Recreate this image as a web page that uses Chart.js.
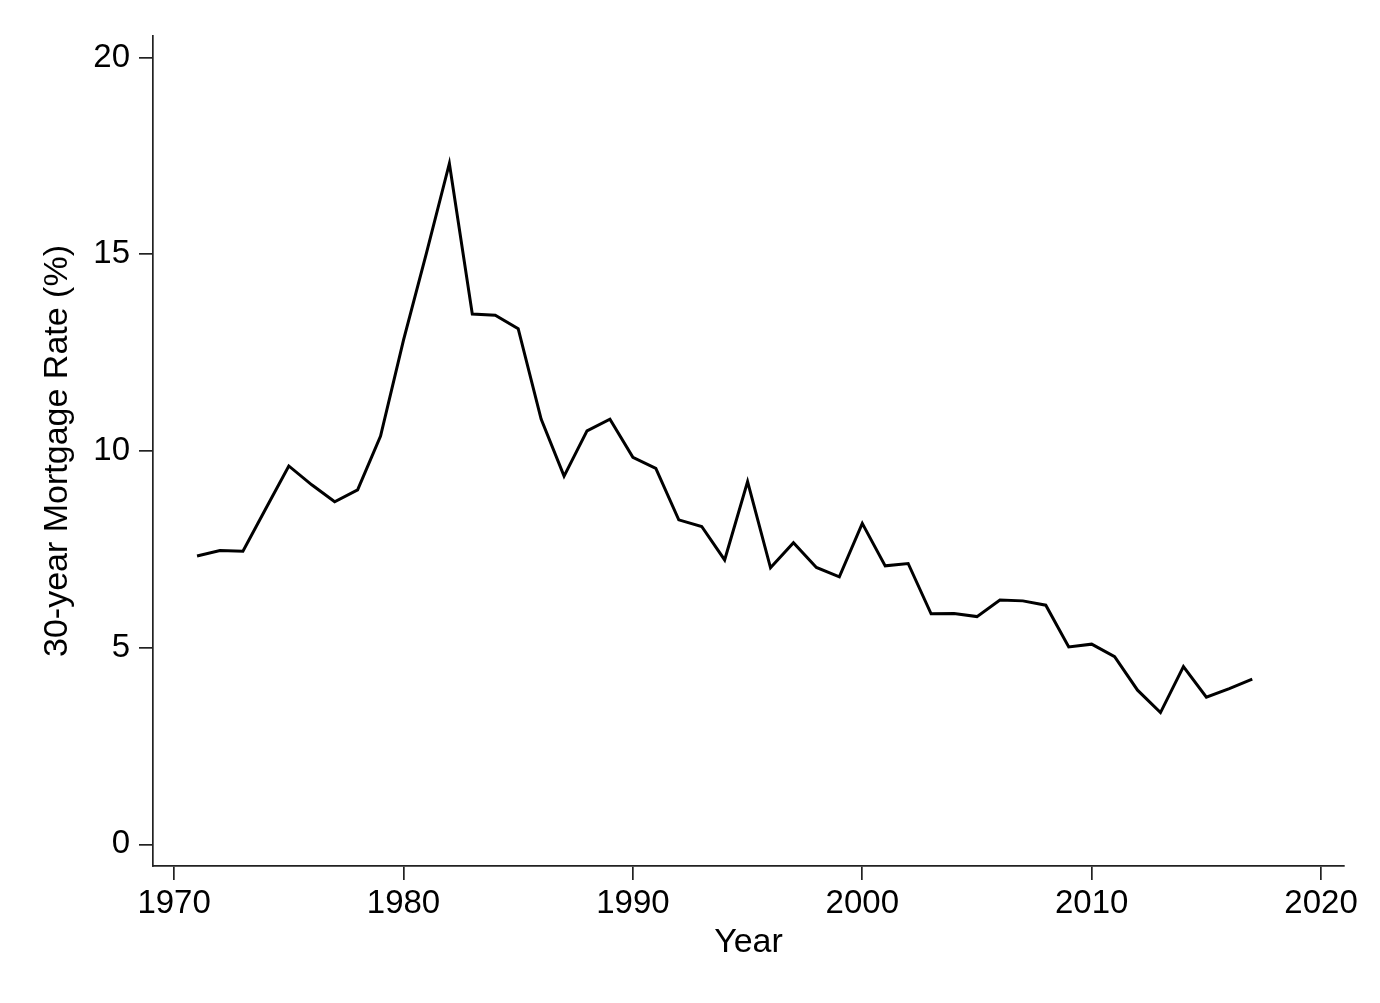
<!DOCTYPE html>
<html>
<head>
<meta charset="utf-8">
<script src="https://cdn.jsdelivr.net/npm/chart.js@4"></script>
<style>
  body { margin: 0; background: #fff; }
  canvas { display: block; }
</style>
</head>
<body>
<canvas id="rateChart" width="1380" height="1003"></canvas>
<script>
// 30-year mortgage rate, yearly values
const years = [1971, 1972, 1973, 1974, 1975, 1976, 1977, 1978, 1979, 1980,
  1981, 1982, 1983, 1984, 1985, 1986, 1987, 1988, 1989, 1990,
  1991, 1992, 1993, 1994, 1995, 1996, 1997, 1998, 1999, 2000,
  2001, 2002, 2003, 2004, 2005, 2006, 2007, 2008, 2009, 2010,
  2011, 2012, 2013, 2014, 2015, 2016, 2017];
const rates = [7.33, 7.47, 7.45, 8.54, 9.62, 9.14, 8.71, 9.01, 10.38, 12.82,
  15.03, 17.31, 13.48, 13.45, 13.11, 10.81, 9.36, 10.51, 10.81, 9.84,
  9.56, 8.25, 8.08, 7.23, 9.22, 7.03, 7.67, 7.04, 6.80, 8.16,
  7.08, 7.14, 5.86, 5.87, 5.79, 6.21, 6.19, 6.08, 5.02, 5.09,
  4.77, 3.92, 3.35, 4.52, 3.74, 3.96, 4.20];

const xTicks = [1970, 1980, 1990, 2000, 2010, 2020];
const yTicks = [0, 5, 10, 15, 20];

const FONT = "'Liberation Sans', Arial, Helvetica, sans-serif";
const AXIS_COLOR = "#222";

const points = years.map((yr, i) => ({ x: yr, y: rates[i] }));

const ctx = document.getElementById("rateChart").getContext("2d");
new Chart(ctx, {
  type: "line",
  data: {
    datasets: [
      {
        label: "30-year Mortgage Rate",
        data: points,
        borderColor: "#000",
        borderWidth: 3,
        pointRadius: 0,
        tension: 0,
        fill: false,
      },
    ],
  },
  options: {
    responsive: false,
    animation: false,
    layout: { padding: { top: 36, right: 36, left: 0, bottom: 0 } },
    plugins: {
      legend: { display: false },
      tooltip: { enabled: false },
    },
    scales: {
      x: {
        type: "linear",
        min: 1969.08,
        max: 2021.0,
        afterFit: (scale) => { scale.height = 137; },
        afterBuildTicks: (scale) => { scale.ticks = xTicks.map((v) => ({ value: v })); },
        grid: { drawOnChartArea: false, drawTicks: true, tickLength: 14, color: AXIS_COLOR, lineWidth: 1.7 },
        border: { display: true, color: AXIS_COLOR, width: 1.7 },
        ticks: {
          color: "#000",
          padding: 4,
          maxRotation: 0,
          font: { family: FONT, size: 33 },
          callback: (v) => String(v),
        },
        title: {
          display: true,
          text: "Year",
          color: "#000",
          font: { family: FONT, size: 34 },
          padding: { top: 0, bottom: 40 },
        },
      },
      y: {
        type: "linear",
        min: -0.55,
        max: 20.55,
        afterFit: (scale) => { scale.width = 153; },
        afterBuildTicks: (scale) => { scale.ticks = yTicks.map((v) => ({ value: v })); },
        grid: { drawOnChartArea: false, drawTicks: true, tickLength: 14, color: AXIS_COLOR, lineWidth: 1.7 },
        border: { display: true, color: AXIS_COLOR, width: 1.7 },
        ticks: {
          color: "#000",
          padding: 9,
          font: { family: FONT, size: 33 },
        },
        title: {
          display: true,
          text: "30-year Mortgage Rate (%)",
          color: "#000",
          font: { family: FONT, size: 34 },
          padding: { top: 37, bottom: 0 },
        },
      },
    },
  },
});
</script>
</body>
</html>
